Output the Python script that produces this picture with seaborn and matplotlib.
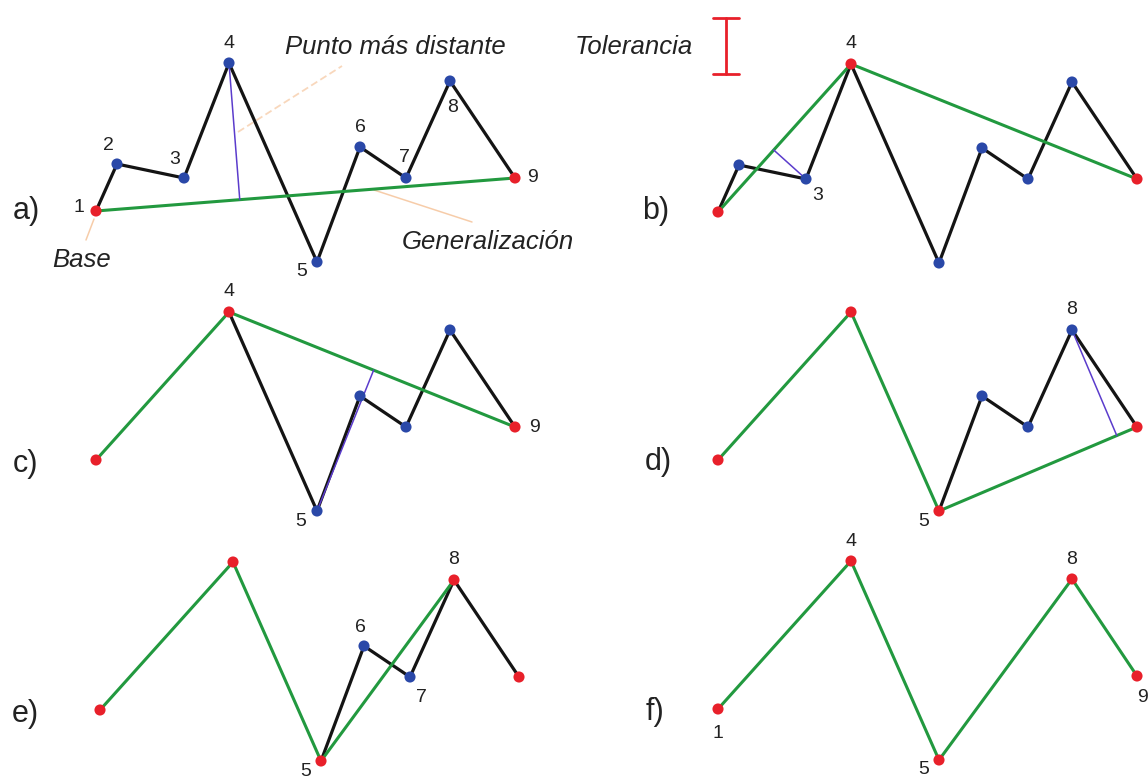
import matplotlib
matplotlib.use("Agg")
import matplotlib.pyplot as plt
import numpy as np
import pandas as pd
import seaborn as sns

sns.set_theme(style="white")
plt.rcParams["font.family"] = ["Liberation Sans", "DejaVu Sans"]

# Vertices of the original line (x to the right, y upward)
vertex_ids = [1, 2, 3, 4, 5, 6, 7, 8, 9]
vertex_x = [0, 21, 88, 133, 221, 264, 310, 354, 419]
vertex_y = [0, 47, 33, 148, -51, 64, 33, 130, 33]

# Douglas-Peucker steps a) .. f)
panel_names = ["a)", "b)", "c)", "d)", "e)", "f)"]
original_paths = [
    [1, 2, 3, 4, 5, 6, 7, 8, 9],
    [1, 2, 3, 4, 5, 6, 7, 8, 9],
    [4, 5, 6, 7, 8, 9],
    [5, 6, 7, 8, 9],
    [5, 6, 7, 8, 9],
    [],
]
simplified_paths = [
    [1, 9],
    [1, 4, 9],
    [1, 4, 9],
    [1, 4, 5, 9],
    [1, 4, 5, 8],
    [1, 4, 5, 8, 9],
]
kept_points = [
    [1, 9],
    [1, 4, 9],
    [1, 4, 9],
    [1, 4, 5, 9],
    [1, 4, 5, 8, 9],
    [1, 4, 5, 8, 9],
]
pending_points = [
    [2, 3, 4, 5, 6, 7, 8],
    [2, 3, 5, 6, 7, 8],
    [5, 6, 7, 8],
    [6, 7, 8],
    [6, 7],
    [],
]
# (vertex, segment start, segment end) of the distance being measured
measured = [(4, 1, 9), (3, 1, 4), (5, 4, 9), (8, 5, 9), None, None]
tolerance = 56

# ---- layout -------------------------------------------------------------
W, H = 1148, 778
panel_origin = [(96, 211), (718, 212), (96, 460), (718, 460), (100, 710), (718, 709)]
letter_pos = [(26, 211), (656, 211), (25, 464), (658, 462), (25, 714), (655, 712)]
# vertex number labels: (vertex, dx, dy) in pixels from the vertex
number_labels = [
    [(1, -17, 4), (2, -9, 18), (3, -9, 18), (4, 0, 20), (5, -15, -10),
     (6, 0, 20), (7, -2, 21), (8, 3, -26), (9, 18, 0)],
    [(4, 0, 20), (3, 12, -17)],
    [(4, 0, 20), (5, -16, -10), (9, 19, 0)],
    [(8, 0, 21), (5, -15, -10)],
    [(6, -4, 18), (7, 11, -20), (8, 0, 20), (5, -15, -10)],
    [(1, 0, -24), (4, 0, 20), (5, -15, -10), (8, 0, 20), (9, 6, -21)],
]

BLACK = "#141414"
GREEN = "#22993f"
RED = "#e8202a"
BLUE = "#2a48a8"
PURPLE = "#5b3ccc"
LEADER = "#f6c7a0"
TEXT = "#222222"

XLIM = (-110, 480)
YLIM = (-90, 170)

pts = pd.DataFrame({"id": vertex_ids, "x": vertex_x, "y": vertex_y}).set_index("id")

fig = plt.figure(figsize=(W / 100, H / 100), dpi=100)
fig.patch.set_facecolor("white")

# full-figure overlay in pixel coordinates for captions and letters
over = fig.add_axes([0, 0, 1, 1], zorder=0)
over.set_xlim(0, W)
over.set_ylim(H, 0)
over.axis("off")
over.patch.set_alpha(0)


def path_frame(ids):
    return pts.loc[ids].reset_index()


for k in range(6):
    ox, oy = panel_origin[k]
    left = ox + XLIM[0]
    ax = fig.add_axes([left / W, (H - (oy - YLIM[0])) / H,
                       (XLIM[1] - XLIM[0]) / W, (YLIM[1] - YLIM[0]) / H], zorder=2)
    ax.set_xlim(*XLIM)
    ax.set_ylim(*YLIM)
    ax.axis("off")
    ax.patch.set_alpha(0)

    if original_paths[k]:
        df = path_frame(original_paths[k])
        sns.lineplot(data=df, x="x", y="y", sort=False, estimator=None,
                     color=BLACK, linewidth=2.3, ax=ax, zorder=2)
    df = path_frame(simplified_paths[k])
    sns.lineplot(data=df, x="x", y="y", sort=False, estimator=None,
                 color=GREEN, linewidth=2.2, ax=ax, zorder=3)

    if measured[k] is not None:
        v, a, b = measured[k]
        p = pts.loc[v].to_numpy(float)
        pa = pts.loc[a].to_numpy(float)
        pb = pts.loc[b].to_numpy(float)
        d = pb - pa
        t = np.dot(p - pa, d) / np.dot(d, d)
        foot = pa + t * d
        seg = pd.DataFrame({"x": [p[0], foot[0]], "y": [p[1], foot[1]]})
        sns.lineplot(data=seg, x="x", y="y", sort=False, estimator=None,
                     color=PURPLE, linewidth=1.1, ax=ax, zorder=4)

    if pending_points[k]:
        sns.scatterplot(data=path_frame(pending_points[k]), x="x", y="y",
                        color=BLUE, s=64, edgecolor="none", ax=ax, zorder=5)
    sns.scatterplot(data=path_frame(kept_points[k]), x="x", y="y",
                    color=RED, s=64, edgecolor="none", ax=ax, zorder=6)

    for vid, dx, dy in number_labels[k]:
        ax.annotate(str(vid), (pts.loc[vid, "x"], pts.loc[vid, "y"]),
                    xytext=(dx, dy), textcoords="offset pixels",
                    ha="center", va="center", fontsize=14, color=TEXT,
                    annotation_clip=False, zorder=7)

    lx, ly = letter_pos[k]
    over.text(lx, ly, panel_names[k], ha="center", va="center",
              fontsize=22, color=TEXT)

# leader lines and captions of panel a)
over.plot([238, 342], [132, 66], color=LEADER, lw=1.3, alpha=0.7,
          linestyle=(0, (4, 2)))
over.plot([374, 472], [190, 222], color=LEADER, lw=1.1, alpha=0.9)
over.plot([94, 86], [219, 240], color=LEADER, lw=1.1, alpha=0.9)
over.text(285, 47, "Punto más distante", fontsize=18.5, style="italic",
          color=TEXT, ha="left", va="center")
over.text(402, 242, "Generalización", fontsize=18.5, style="italic",
          color=TEXT, ha="left", va="center")
over.text(52, 260, "Base", fontsize=18.5, style="italic",
          color=TEXT, ha="left", va="center")
over.text(575, 47, "Tolerancia", fontsize=18.5, style="italic",
          color=TEXT, ha="left", va="center")

# tolerance bar
bx, by = 726, 18
over.plot([bx, bx], [by, by + tolerance], color=RED, lw=2.0)
over.plot([bx - 13, bx + 13], [by, by], color=RED, lw=2.0)
over.plot([bx - 13, bx + 13], [by + tolerance, by + tolerance], color=RED, lw=2.0)

fig.savefig("out.png", dpi=100, facecolor="white")
